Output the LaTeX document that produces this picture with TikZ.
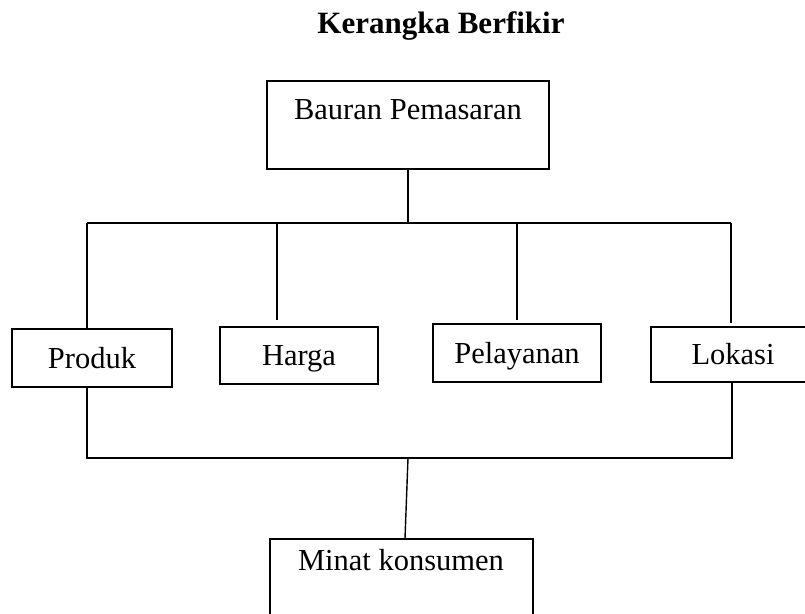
\documentclass[tikz,border=0pt]{standalone}
\usepackage{fontspec}
\setmainfont{Liberation Serif}
\usetikzlibrary{positioning}

\begin{document}
\begin{tikzpicture}[
    x=1pt, y=-1pt,
    line width=1.4pt,
    box/.style={%
      draw,
      rectangle,
      inner sep=0pt,
      font=\fontsize{30.5}{36}\selectfont,
      text height=26pt,
      text depth=6pt,
    },
    txt/.style={%
      font=\fontsize{30.5}{36}\selectfont,
      inner sep=0pt,
      anchor=base,
    },
  ]
    \useasboundingbox (0,0) rectangle (805,613);

    \node [font=\fontsize{31}{36}\selectfont\bfseries, anchor=base] (title) at (441,33) {Kerangka Berfikir};

    % top and bottom boxes, text sits high
    \node [box, minimum width=282pt, minimum height=88pt] (bauran) at (408,125) {};
    \node [txt] (bauranText) at (408,119) {Bauran Pemasaran};
    \node [box, minimum width=263pt, minimum height=86pt] (minat) at (401.5,582) {};
    \node [txt] (minatText) at (401,570) {Minat konsumen};

    % the four elements
    \node [box, minimum width=160pt, minimum height=58pt] (produk) at (92,358) {Produk};
    \node [box, minimum width=158pt, minimum height=57pt] (harga) at (299,355.5) {Harga};
    \node [box, minimum width=168pt, minimum height=58pt] (pelayanan) at (517,353) {Pelayanan};
    \node [box, minimum width=164pt, minimum height=55pt] (lokasi) at (733,354.5) {Lokasi};

    \coordinate (topL) at (87,223);
    \coordinate (topR) at (731,223);
    \coordinate (topHarga) at (277,223);
    \coordinate (botL) at (87,458);
    \coordinate (botR) at (732,458);
    \coordinate (botM) at (408,458);

    \draw (topL) -- (topR);
    \draw (bauran.south) -- (bauran.south |- topL);
    \draw (topL) -- (topL |- produk.north);
    \draw [shorten >=6pt] (topHarga) -- (topHarga |- harga.north);
    \draw [shorten >=3pt] (pelayanan.north |- topL) -- (pelayanan.north);
    \draw [shorten >=3pt] (topR) -- (topR |- lokasi.north);

    \draw (botL |- produk.south) -- (botL) -- (botR) -- (botR |- lokasi.south);
    \draw (botM) -- ([xshift=3.5pt]minat.north);
\end{tikzpicture}
\end{document}
